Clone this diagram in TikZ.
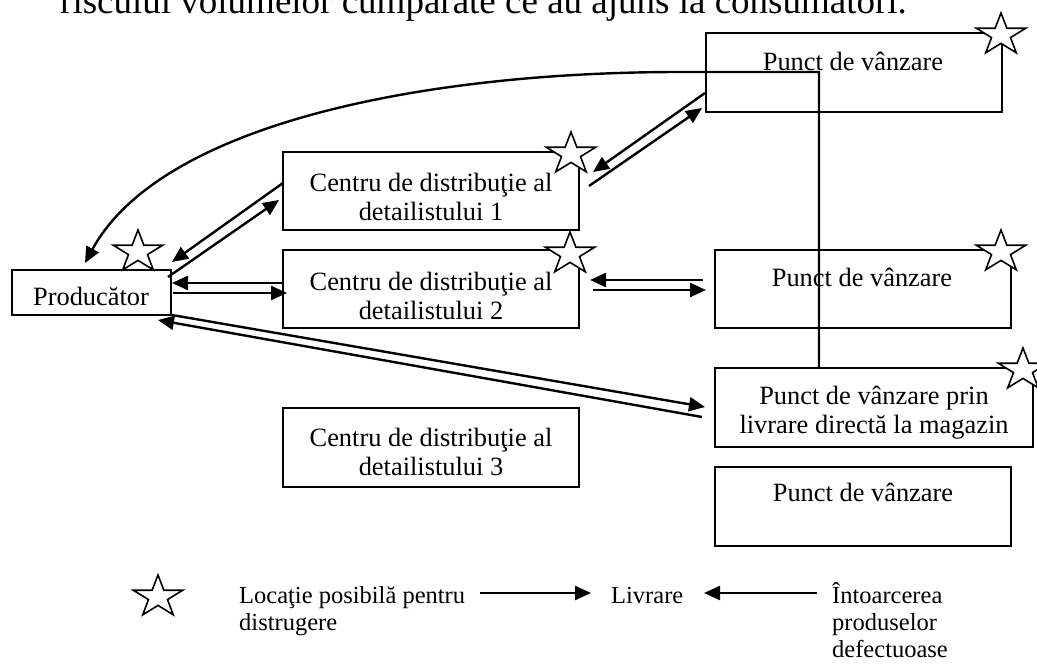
\documentclass[tikz,border=0pt]{standalone}
\usepackage{fontspec}
\setmainfont{Liberation Serif}
\usetikzlibrary{arrows.meta,calc}
\tikzset{
  wstar/.pic={
    \draw[line width=1.6pt, fill=white, line join=miter]
      (90:26pt and 22pt) -- (126:10pt and 8.4pt) -- (162:26pt and 22pt) -- (198:10pt and 8.4pt)
      -- (234:26pt and 22pt) -- (270:10pt and 8.4pt) -- (306:26pt and 22pt) -- (342:10pt and 8.4pt)
      -- (18:26pt and 22pt) -- (54:10pt and 8.4pt) -- cycle;
  }
}
\begin{document}
\begin{tikzpicture}[x=1pt,y=-1pt,
  box/.style={draw, line width=2pt, inner sep=0pt},
  lbl/.style={font=\fontsize{26.4}{29}\selectfont, align=center, inner sep=0pt},
  leg/.style={font=\fontsize{24.5}{27}\selectfont, align=left, inner sep=0pt, anchor=base west},
  arr/.style={line width=2.4pt, -{Triangle[length=16pt,width=14pt]}}
]
\useasboundingbox (0,0) rectangle (1037,664);

% title (cut at top)
\node[anchor=base west, font=\fontsize{37}{40}\selectfont, inner sep=0pt] (title) at (60,13)
  {riscului volumelor cumpărate ce au ajuns la consumatori.};

% boxes
\node[box, minimum width=159pt, minimum height=45pt] (prod) at (91.5,292.5) {};
\node[box, minimum width=296pt, minimum height=78pt] (cd1) at (431,191) {};
\node[box, minimum width=296pt, minimum height=78pt] (cd2) at (431,289) {};
\node[box, minimum width=296pt, minimum height=79pt] (cd3) at (431,447.5) {};
\node[box, minimum width=296pt, minimum height=79pt] (pv1) at (854,72.5) {};
\node[box, minimum width=296pt, minimum height=78pt] (pv2) at (863,289) {};
\node[box, minimum width=318pt, minimum height=79pt] (pvl) at (874,407.5) {};
\node[box, minimum width=296pt, minimum height=79pt] (pv3) at (863,506.5) {};

% box texts
\node[lbl] (tprod) at (91,296) {Producător};
\node[lbl] (tcd1) at (431,197) {Centru de distribuţie al\\detailistului 1};
\node[lbl] (tcd2) at (431,296) {Centru de distribuţie al\\detailistului 2};
\node[lbl] (tcd3) at (431,452) {Centru de distribuţie al\\detailistului 3};
\node[lbl] (tpv1) at (853,61) {Punct de vânzare};
\node[lbl] (tpv2) at (862,277) {Punct de vânzare};
\node[lbl] (tpvl) at (874,413) {Punct de vânzare prin\\livrare directă la magazin};
\node[lbl] (tpv3) at (863,492) {Punct de vânzare};

% connector end points
\coordinate (a1s) at (168,277);  \coordinate (a1e) at (279,200);
\coordinate (a2s) at (283,183);  \coordinate (a2e) at (172,262);
\coordinate (a3s) at (589,186);  \coordinate (a3e) at (702,108);
\coordinate (a4s) at (705,93);   \coordinate (a4e) at (593,172);
\coordinate (a5s) at (173,293);  \coordinate (a5e) at (287,293);
\coordinate (a6s) at (283,283);  \coordinate (a6e) at (172,283);
\coordinate (a7s) at (593,290);  \coordinate (a7e) at (706,290);
\coordinate (a8s) at (703,280);  \coordinate (a8e) at (590,280);
\coordinate (a9s) at (172,315);  \coordinate (a9e) at (705,407);
\coordinate (a10s) at (702,417); \coordinate (a10e) at (158,320);
\coordinate (vtop) at (819,72);
\coordinate (ctip) at (85,263);

% connectors
\draw[arr] (a1s) -- (a1e);
\draw[arr] (a2s) -- (a2e);
\draw[arr] (a3s) -- (a3e);
\draw[arr] (a4s) -- (a4e);
\draw[arr] (a5s) -- (a5e);
\draw[arr] (a6s) -- (a6e);
\draw[arr] (a7s) -- (a7e);
\draw[arr] (a8s) -- (a8e);
\draw[arr] (a9s) -- (a9e);
\draw[arr] (a10s) -- (a10e);
\draw[arr] (pvl.north -| vtop) -- (vtop) -- (680,72) .. controls (420,72) and (160,125) .. (ctip);

% stars
\pic at (138,252) {wstar};
\pic at (571,154) {wstar};
\pic at (570,254) {wstar};
\pic at (1001,35) {wstar};
\pic at (1001,252) {wstar};
\pic at (1023,370) {wstar};

% legend
\pic at (158,597) {wstar};
\node[leg] (l1) at (239,630) {Locaţie posibilă pentru\\distrugere};
\node[leg] (l2) at (611,603) {Livrare};
\node[leg] (l3) at (832,657) {Întoarcerea\\produselor\\defectuoase};
\coordinate (la1s) at (480,593); \coordinate (la1e) at (591,593);
\coordinate (la2s) at (817,593); \coordinate (la2e) at (704,593);
\draw[arr] (la1s) -- (la1e);
\draw[arr] (la2s) -- (la2e);
\end{tikzpicture}
\end{document}
